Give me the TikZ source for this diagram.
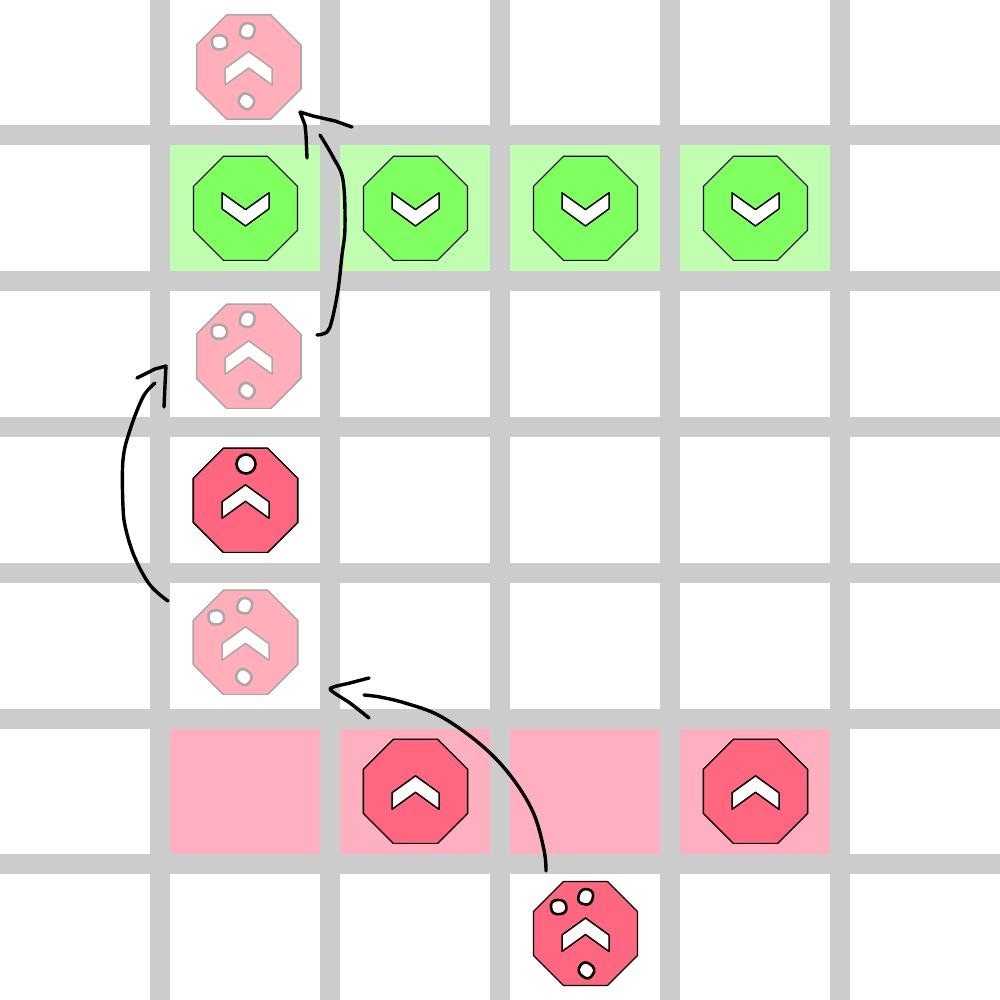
\documentclass[tikz,border=0pt]{standalone}
\usetikzlibrary{arrows.meta}
\definecolor{gridgray}{HTML}{CCCCCC}
\definecolor{cellgreen}{HTML}{BFFFAF}
\definecolor{cellpink}{HTML}{FFB0C0}
\definecolor{octgreen}{HTML}{80FF60}
\definecolor{octred}{HTML}{FF6680}
\definecolor{octghost}{HTML}{FFAEBA}
\definecolor{ghostline}{HTML}{A8A8A8}
\tikzset{
  gridline/.style={line width=20pt,draw=gridgray},
  cellg/.style={fill=cellgreen},
  cellp/.style={fill=cellpink},
  octbody/.style={line width=1.1pt,line join=miter},
  solidgreen/.style={octbody,draw=black,fill=octgreen},
  solidred/.style={octbody,draw=black,fill=octred},
  ghost/.style={octbody,draw=ghostline,fill=octghost},
  chev/.style={line width=1.5pt,line join=round,fill=white},
  holemark/.style={line width=2.6pt,fill=white},
  ink/.style={line width=3.4pt,draw=black,line cap=round,line join=round}
}
\newcommand{\octpath}{(-22,-52) -- (22,-52) -- (52,-22) -- (52,22) -- (22,52) -- (-22,52) -- (-52,22) -- (-52,-22) -- cycle}
\newcommand{\chevup}{(0,-15.5) -- (23.5,1.5) -- (23.5,18) -- (0,1) -- (-23.5,18) -- (-23.5,1.5) -- cycle}
\newcommand{\chevdown}{(-23.5,-15.5) -- (0,1.3) -- (23.5,-15.5) -- (23.5,0.5) -- (0,17.7) -- (-23.5,0.5) -- cycle}
% #1 x, #2 y, #3 body style, #4 outline colour, #5 chevron path
\newcommand{\tokenat}[5]{\begin{scope}[shift={(#1,#2)}]
  \draw[#3] \octpath;
  \draw[chev,draw=#4] #5;
\end{scope}}
% one irregular hand-made hole: #1 colour, #2 x, #3 y, #4 rotation
\newcommand{\blob}[4]{\draw[holemark,draw=#1,shift={(#2,#3)},rotate=#4] plot[smooth cycle,tension=0.7] coordinates {(7.7,0) (5.2,-5.5) (-1,-7) (-6.7,-4.8) (-7.6,1) (-5.2,6) (1,7.1) (6.2,5)};}
\newcommand{\holes}[7]{%
  \blob{#1}{#2}{#3}{0}
  \blob{#1}{#4}{#5}{70}
  \blob{#1}{#6}{#7}{140}}
\begin{document}
\begin{tikzpicture}[x=1pt,y=-1pt]
\useasboundingbox (0,0) rectangle (1000,1000);
\fill[white] (0,0) rectangle (1000,1000);
% grid
\foreach \yy in {135.5,281.3,427,572.8,718.5,864.3}
  \draw[gridline] (0,\yy) -- (1000,\yy);
\foreach \xx in {160,330,500,670,840}
  \draw[gridline] (\xx,0) -- (\xx,1000);
% coloured cells
\foreach \xa in {170,340,510,680}{
  \fill[cellg] (\xa,145.5) rectangle (\xa+150.4,271.4);
  \fill[cellp] (\xa,728.5) rectangle (\xa+150.4,854.4);
}
% green row
\foreach \xx in {245.5,415.5,585.5,755.5}
  \tokenat{\xx}{208.3}{solidgreen}{black}{\chevdown}
% red row
\foreach \xx in {415.5,755.5}
  \tokenat{\xx}{791.3}{solidred}{black}{\chevup}
% ghost tokens
\tokenat{248.7}{67}{ghost}{ghostline}{\chevup}
\holes{ghostline}{219.7}{42.3}{247.3}{30.7}{246.3}{101.3}
\tokenat{248.7}{356.3}{ghost}{ghostline}{\chevup}
\holes{ghostline}{219.3}{331.7}{247.3}{319.3}{246.7}{390.7}
\tokenat{245.5}{642.3}{ghost}{ghostline}{\chevup}
\holes{ghostline}{216.3}{617.3}{244.7}{605.7}{243.7}{677}
% solid red tokens
\tokenat{245.5}{500.3}{solidred}{black}{\chevup}
\draw[holemark,draw=black] (246,464) circle (9.5);
\tokenat{585.5}{933.5}{solidred}{black}{\chevup}
\holes{black}{558.7}{907}{585.7}{896.7}{586.3}{970.3}
% hand-drawn arrows
\draw[ink] plot[smooth,tension=0.6] coordinates {(546,871) (544,850) (533,812) (510,775) (480,744) (440,716) (405,703) (380,697) (364,695)};
\draw[ink] plot[smooth,tension=0.4] coordinates {(369,678) (350,683) (330,689) (350,703) (369,718)};
\draw[ink] plot[smooth,tension=0.6] coordinates {(168,601) (150,585) (135,558) (126,530) (123,507) (123,460) (130,430) (143,397) (155,383)};
\draw[ink] (137,378) -- (145,374) -- (155,369) -- (166,366) -- (165,385) -- (164,407);
\draw[ink] plot[smooth,tension=0.6] coordinates {(317,335) (327,332) (332,320) (338,290) (342,255) (345,227) (343,180) (333,157) (320,135)};
\draw[ink] (307,158) -- (306,135) -- (305,125) -- (300,112) -- (313,116) -- (335,121) -- (352,127);
\end{tikzpicture}
\end{document}
